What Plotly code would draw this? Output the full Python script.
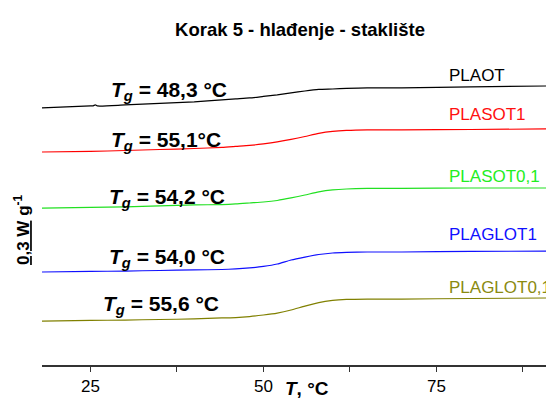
import plotly.graph_objects as go

# Temperature (°C)
temperature = [18, 25, 30, 35, 40, 44, 46, 48, 50, 52, 54, 56, 58, 60, 62, 65, 70, 80, 92]

# Heat flow (W/g, vertically offset curves)
plaot = [1.836, 1.850, 1.857, 1.868, 1.879, 1.893, 1.900, 1.907, 1.918, 1.929,
         1.943, 1.957, 1.968, 1.971, 1.975, 1.979, 1.979, 1.986, 1.993]
plasot1 = [1.521, 1.525, 1.532, 1.539, 1.546, 1.554, 1.561, 1.568, 1.579, 1.593,
           1.611, 1.632, 1.654, 1.668, 1.675, 1.679, 1.679, 1.682, 1.686]
plasot01 = [1.121, 1.125, 1.129, 1.136, 1.143, 1.146, 1.150, 1.157, 1.164, 1.175,
            1.193, 1.214, 1.236, 1.250, 1.257, 1.261, 1.261, 1.264, 1.264]
plaglot1 = [0.664, 0.668, 0.671, 0.675, 0.679, 0.682, 0.686, 0.693, 0.704, 0.721,
            0.750, 0.771, 0.789, 0.800, 0.804, 0.807, 0.807, 0.811, 0.814]
plaglot01 = [0.314, 0.318, 0.321, 0.325, 0.329, 0.336, 0.339, 0.346, 0.357, 0.371,
             0.393, 0.421, 0.446, 0.461, 0.468, 0.471, 0.471, 0.475, 0.479]

# small artefact on the PLAOT curve near 25.7 °C
plaot_glitch_t = [25.4, 25.7, 26.0]
plaot_glitch_v = [1.851, 1.858, 1.850]

series_names = ["PLAOT", "PLASOT1", "PLASOT0,1", "PLAGLOT1", "PLAGLOT0,1"]
series_colors = ["#000000", "#ff0000", "#22e022", "#1010ff", "#808000"]
label_colors = ["#000000", "#ff1010", "#22ee22", "#1010ff", "#8a8a10"]
label_y = [2.071, 1.786, 1.343, 0.929, 0.557]

tg_texts = ["48,3 °C", "55,1°C", "54,2 °C", "54,0 °C", "55,6 °C"]
tg_x = [36.4, 35.9, 36.1, 36.1, 35.2]
tg_y = [1.957, 1.600, 1.193, 0.764, 0.429]

tick_vals = [25, 37.5, 50, 62.5, 75, 87.5]
tick_text = ["25", "", "50", "", "75", ""]

# The page adds an 8px body margin, so the figure is 8px smaller on each axis.
W, H = 546, 391

# merge the artefact points into the PLAOT series
plaot_pts = sorted(list(zip(temperature, plaot)) + list(zip(plaot_glitch_t, plaot_glitch_v)))
series_x = [[p[0] for p in plaot_pts], temperature, temperature, temperature, temperature]
series_values = [[p[1] for p in plaot_pts], plasot1, plasot01, plaglot1, plaglot01]

fig = go.Figure()
for name, xs, vals, col in zip(series_names, series_x, series_values, series_colors):
    fig.add_trace(go.Scatter(x=xs, y=vals, mode="lines", name=name,
                             line=dict(color=col, width=1.2, shape="spline", smoothing=0.6),
                             showlegend=False))

font_main = "Liberation Sans, Arial, sans-serif"

for name, ly, col in zip(series_names, label_y, label_colors):
    fig.add_annotation(x=76.5, y=ly, text=name, showarrow=False, xanchor="left",
                       yanchor="middle", font=dict(family=font_main, size=17, color=col))

for t, tx, ty in zip(tg_texts, tg_x, tg_y):
    fig.add_annotation(x=tx, y=ty, text="<b><i>T</i><sub><i>g</i></sub> = " + t + "</b>",
                       showarrow=False, xanchor="center", yanchor="middle",
                       font=dict(family=font_main, size=21, color="#000000"))

# axis title
fig.add_annotation(x=(307 - 42) / 512, xref="paper", y=-23 / 325, yref="paper",
                   text="<b><i>T</i>, °C</b>", showarrow=False,
                   xanchor="center", yanchor="middle",
                   font=dict(family=font_main, size=19, color="#000"))

# y scale label
fig.add_annotation(x=-20 / 512, xref="paper", y=(365 - 230) / 325, yref="paper",
                   text="<b><u>0,3 W</u> g<sup>-1</sup></b>", textangle=-90,
                   showarrow=False, xanchor="center", yanchor="middle",
                   font=dict(family=font_main, size=17, color="#000"))

fig.update_layout(
    width=W, height=H,
    margin=dict(l=34, r=0, t=32, b=34),
    paper_bgcolor="white", plot_bgcolor="white",
    title=dict(text="<b>Korak 5 - hlađenje - staklište</b>", x=292 / W,
               xanchor="center", y=1 - 22 / H, yanchor="middle",
               font=dict(family=font_main, size=18.5, color="#000")),
    xaxis=dict(range=[18, 92], showgrid=False, zeroline=False, showline=True,
               linecolor="#333333", linewidth=1.5, ticks="outside", ticklen=5,
               tickwidth=1.2, tickcolor="#333333", tickvals=tick_vals, ticktext=tick_text,
               tickfont=dict(family=font_main, size=17, color="#000"),
               tickprefix="<b>", ticksuffix="</b>"),
    yaxis=dict(range=[0, 2.321], visible=False),
)

fig.write_html("out.html")
